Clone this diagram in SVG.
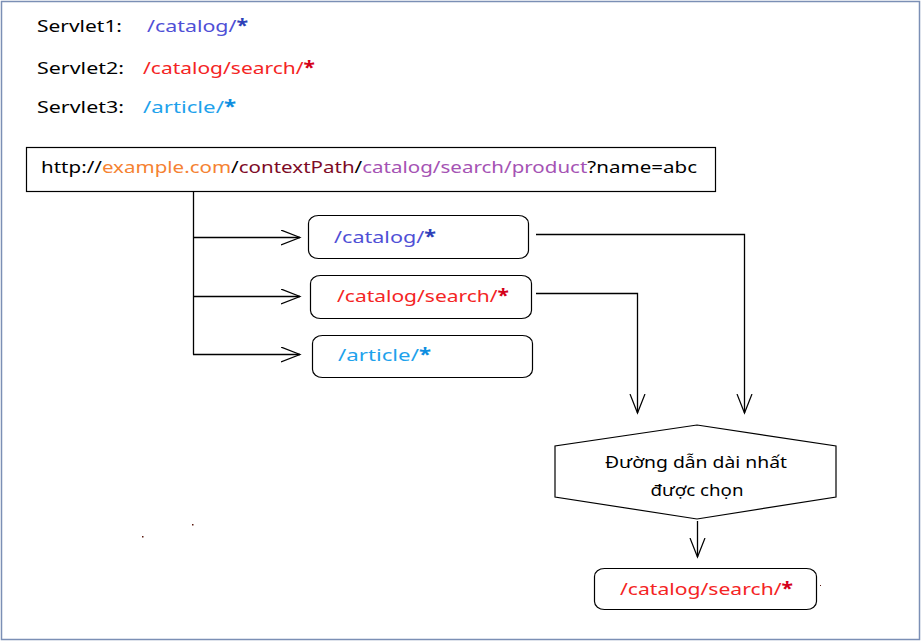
<svg xmlns="http://www.w3.org/2000/svg" width="922" height="643" viewBox="0 0 922 643">
  <style>
    text { font-family: "Noto Sans", "DejaVu Sans", sans-serif; font-size: 17px; fill: #000; }
    .node { fill: #fff; stroke: #000; stroke-width: 1.2; }
    .wire { fill: none; stroke: #000; stroke-width: 1.3; }
    .blue { fill: #4f4fd6; }
    .blue-s { fill: #2d3fb8; font-weight: bold; }
    .red { fill: #f42424; }
    .red-s { fill: #d4001a; font-weight: bold; }
    .sky { fill: #1ea2ec; }
    .sky-s { fill: #0d8ee0; font-weight: bold; }
    .orange { fill: #f58232; }
    .maroon { fill: #7d0a26; }
    .purple { fill: #a553b4; }
  </style>
  <defs>
    <marker id="open-arrow" markerUnits="userSpaceOnUse" markerWidth="22" markerHeight="18" refX="19" refY="8" orient="auto">
      <path d="M0,0.5 L19,8 L0,15.5" fill="none" stroke="#000" stroke-width="1.2"/>
    </marker>
  </defs>

  <!-- frame -->
  <rect x="1.5" y="1.5" width="918" height="638" fill="#fff" stroke="#7b8fb5" stroke-width="1.5"/>

  <!-- servlet mappings legend -->
  <g id="legend">
    <text x="37" y="32" textLength="85" lengthAdjust="spacingAndGlyphs">Servlet1:</text>
    <text x="147" y="32" textLength="101" lengthAdjust="spacingAndGlyphs"><tspan class="blue">/catalog/</tspan><tspan class="blue-s">*</tspan></text>
    <text x="37" y="74" textLength="87" lengthAdjust="spacingAndGlyphs">Servlet2:</text>
    <text x="143" y="74" textLength="172" lengthAdjust="spacingAndGlyphs"><tspan class="red">/catalog/search/</tspan><tspan class="red-s">*</tspan></text>
    <text x="37" y="113" textLength="87" lengthAdjust="spacingAndGlyphs">Servlet3:</text>
    <text x="143" y="113" textLength="93" lengthAdjust="spacingAndGlyphs"><tspan class="sky">/article/</tspan><tspan class="sky-s">*</tspan></text>
  </g>

  <!-- request URL -->
  <g id="url">
    <rect x="26.5" y="147.5" width="689" height="44" class="node"/>
    <text x="41" y="173" textLength="656" lengthAdjust="spacingAndGlyphs">http://<tspan class="orange">example.com</tspan>/<tspan class="maroon">contextPath</tspan>/<tspan class="purple">catalog/search/product</tspan>?name=abc</text>
  </g>

  <!-- candidate patterns -->
  <g id="pattern-catalog">
    <rect x="308.5" y="215.5" width="220" height="43" rx="10" ry="8" class="node"/>
    <text x="334" y="243" textLength="102" lengthAdjust="spacingAndGlyphs"><tspan class="blue">/catalog/</tspan><tspan class="blue-s">*</tspan></text>
  </g>
  <g id="pattern-search">
    <rect x="310.5" y="275.5" width="221" height="43" rx="10" ry="8" class="node"/>
    <text x="337" y="302" textLength="172" lengthAdjust="spacingAndGlyphs"><tspan class="red">/catalog/search/</tspan><tspan class="red-s">*</tspan></text>
  </g>
  <g id="pattern-article">
    <rect x="312.5" y="335.5" width="220" height="42" rx="10" ry="8" class="node"/>
    <text x="338" y="361" textLength="93" lengthAdjust="spacingAndGlyphs"><tspan class="sky">/article/</tspan><tspan class="sky-s">*</tspan></text>
  </g>

  <!-- decision -->
  <g id="longest-match">
    <polygon points="697,425 836,446 836,497 697,519 555,497 555,446" class="node"/>
    <text x="696" y="468" text-anchor="middle" textLength="182" lengthAdjust="spacingAndGlyphs">Đường dẫn dài nhất</text>
    <text x="697" y="496" text-anchor="middle" textLength="93" lengthAdjust="spacingAndGlyphs">được chọn</text>
  </g>

  <!-- result -->
  <g id="result">
    <rect x="594.5" y="568.5" width="222" height="41" rx="10" ry="8" class="node"/>
    <text x="620" y="595" textLength="173" lengthAdjust="spacingAndGlyphs"><tspan class="red">/catalog/search/</tspan><tspan class="red-s">*</tspan></text>
  </g>

  <!-- connectors -->
  <g id="connectors">
    <path class="wire" d="M193.5,191 V354.5"/>
    <path class="wire" d="M193,237.5 H300" marker-end="url(#open-arrow)"/>
    <path class="wire" d="M193,296.5 H300" marker-end="url(#open-arrow)"/>
    <path class="wire" d="M193,354.5 H300" marker-end="url(#open-arrow)"/>
    <path class="wire" d="M536,234.5 H744.5 V413" marker-end="url(#open-arrow)"/>
    <path class="wire" d="M536,293.5 H637.5 V413" marker-end="url(#open-arrow)"/>
    <path class="wire" d="M697.5,521 V557" marker-end="url(#open-arrow)"/>
  </g>

  <!-- specks -->
  <g id="specks" fill="#5a1a10">
    <rect x="142" y="536" width="1.5" height="1.5"/>
    <rect x="192" y="524" width="1.5" height="1.5"/>
    <rect x="820" y="585" width="1" height="1"/>
  </g>
</svg>
